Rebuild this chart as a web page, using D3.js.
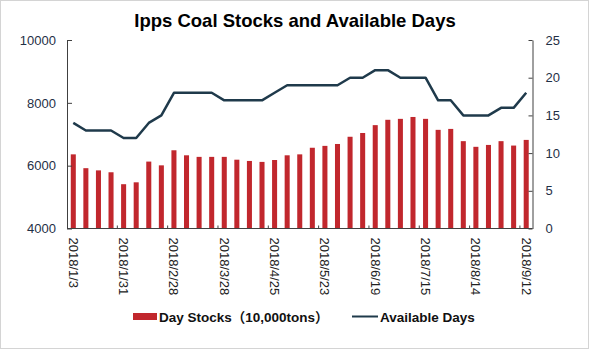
<!DOCTYPE html>
<html>
<head>
<meta charset="utf-8">
<script src="https://cdn.jsdelivr.net/npm/d3@7"></script>
<style>
  body { margin: 0; background: #fff; }
  svg { font-family: Arial, "Liberation Sans", "Noto Sans CJK SC", sans-serif; }
</style>
</head>
<body>
<div id="chart"></div>
<script>
// weekly dates (only every 4th one is labelled on the chart)
const dates = ["2018/1/3","2018/1/10","2018/1/17","2018/1/24","2018/1/31","2018/2/7","2018/2/14","2018/2/21",
  "2018/2/28","2018/3/7","2018/3/14","2018/3/21","2018/3/28","2018/4/4","2018/4/11","2018/4/18",
  "2018/4/25","2018/5/2","2018/5/9","2018/5/16","2018/5/23","2018/5/30","2018/6/6","2018/6/13",
  "2018/6/19","2018/6/26","2018/7/3","2018/7/10","2018/7/15","2018/7/22","2018/7/29","2018/8/7",
  "2018/8/14","2018/8/21","2018/8/28","2018/9/5","2018/9/12"];

const stocks = [6360,5920,5850,5790,5410,5470,6130,6010,6490,6330,6280,6280,6280,6190,6150,6120,
  6180,6330,6360,6570,6630,6690,6920,7040,7290,7460,7490,7550,7490,7140,7170,6780,6600,6660,6780,6640,6820];

const days = [14,13,13,13,12,12,14,15,18,18,18,18,17,17,17,17,18,19,19,19,19,19,20,20,21,21,20,20,20,
  17,17,15,15,15,16,16,18];

const tickDates = ["2018/1/3","2018/1/31","2018/2/28","2018/3/28","2018/4/25","2018/5/23",
  "2018/6/19","2018/7/15","2018/8/14","2018/9/12"];
const leftTicks = [4000, 6000, 8000, 10000];
const rightTicks = [0, 5, 10, 15, 20, 25];

const W = 590, H = 350;
const PLOT = {left: 67, right: 532.5, top: 40, bottom: 228.5};
const RED = "#c1272d", NAVY = "#1f3a4b", AXIS = "#404040";

const svg = d3.select("#chart").append("svg")
    .attr("width", W).attr("height", H);

// outer frame
svg.append("rect")
    .attr("x", 0.5).attr("y", 0.5)
    .attr("width", W - 2).attr("height", H - 2)
    .attr("fill", "#fff").attr("stroke", "#d4d4d4");

svg.append("text")
    .attr("x", 295).attr("y", 27)
    .attr("text-anchor", "middle")
    .attr("font-size", 18.5).attr("font-weight", "bold")
    .attr("fill", "#000")
    .text("Ipps Coal Stocks and Available Days");

var x = d3.scaleBand()
    .domain(dates)
    .range([PLOT.left, PLOT.right])
    .paddingInner(.6)
    .paddingOuter(.3);

var step = x.step();
const cx = d => x(d) + x.bandwidth() / 2;

var yL = d3.scaleLinear().domain([4000, 10000]).range([PLOT.bottom, PLOT.top]);
var yR = d3.scaleLinear().domain([0, 25]).range([PLOT.bottom, PLOT.top]);

// bars
svg.append("g").selectAll("rect")
    .data(dates)
    .enter()
    .append("rect")
    .attr("x", d => x(d))
    .attr("y", (d, i) => yL(stocks[i]))
    .attr("width", x.bandwidth())
    .attr("height", (d, i) => PLOT.bottom - yL(stocks[i]))
    .attr("fill", RED);

// available days line
var line = d3.line()
    .x((d, i) => cx(dates[i]))
    .y(d => yR(d));

svg.append("path")
    .datum(days)
    .attr("d", line)
    .attr("fill", "none")
    .attr("stroke", NAVY)
    .attr("stroke-width", 2.5)
    .attr("stroke-linejoin", "round");

// left axis
var gL = svg.append("g")
    .attr("transform", `translate(${PLOT.left},0)`)
    .call(d3.axisLeft(yL).tickValues(leftTicks).tickFormat(d3.format("d"))
        .tickSizeInner(-5).tickSizeOuter(0).tickPadding(11));

// right axis
var gR = svg.append("g")
    .attr("transform", `translate(${PLOT.right},0)`)
    .call(d3.axisRight(yR).tickValues(rightTicks)
        .tickSizeInner(-4).tickSizeOuter(0).tickPadding(13));

[gL, gR].forEach(g => {
    g.select(".domain").attr("stroke", AXIS);
    g.selectAll(".tick line").attr("stroke", AXIS);
    g.selectAll(".tick text").attr("font-size", 13).attr("fill", "#1f3046")
        .attr("font-family", null);
});

// bottom axis: labels at band centres, little ticks on band boundaries
var gB = svg.append("g")
    .attr("transform", `translate(0,${PLOT.bottom})`)
    .call(d3.axisBottom(x).tickValues(tickDates).tickSize(0).tickPadding(0));

gB.select(".domain").attr("stroke", AXIS).attr("d", `M${PLOT.left},0H${PLOT.right}`);
gB.selectAll(".tick text")
    .attr("font-family", null)
    .attr("font-size", 13)
    .attr("fill", "#222")
    .attr("transform", "rotate(90)")
    .attr("x", 9).attr("y", 0)
    .attr("dy", "0.35em")
    .style("text-anchor", "start");

svg.append("g").selectAll("line")
    .data(tickDates.slice(1))
    .enter()
    .append("line")
    .attr("x1", d => cx(d) - step / 2).attr("x2", d => cx(d) - step / 2)
    .attr("y1", PLOT.bottom).attr("y2", PLOT.bottom - 3)
    .attr("stroke", AXIS);

// legend
var leg = svg.append("g").attr("font-size", 13.5).attr("font-weight", "bold").attr("fill", "#111");
leg.append("rect")
    .attr("x", 133).attr("y", 313).attr("width", 24).attr("height", 7)
    .attr("fill", RED);
leg.append("text").attr("x", 159).attr("y", 322).text("Day Stocks（10,000tons）");
leg.append("line")
    .attr("x1", 352).attr("x2", 378).attr("y1", 316.5).attr("y2", 316.5)
    .attr("stroke", NAVY).attr("stroke-width", 2);
leg.append("text").attr("x", 380).attr("y", 322).text("Available Days");
</script>
</body>
</html>
